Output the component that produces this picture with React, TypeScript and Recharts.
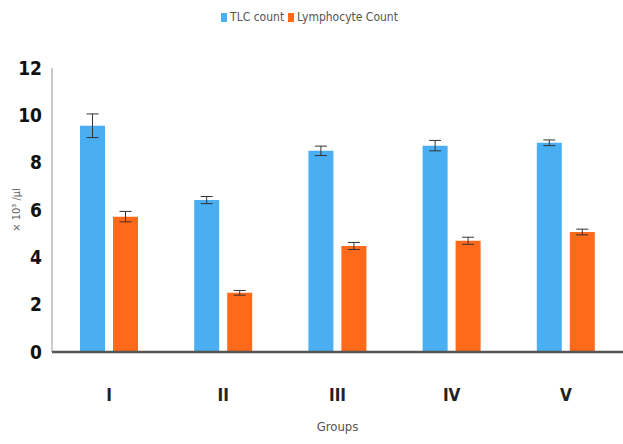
import { BarChart, Bar, XAxis, YAxis, Legend, ErrorBar } from "recharts";

const groups = ["I", "II", "III", "IV", "V"];
const tlcCount = [9.56, 6.42, 8.5, 8.72, 8.84];
const tlcError = [0.5, 0.15, 0.2, 0.22, 0.12];
const lymphocyteCount = [5.72, 2.5, 4.48, 4.7, 5.07];
const lymphocyteError = [0.22, 0.1, 0.15, 0.15, 0.12];
const yTicks = [0, 2, 4, 6, 8, 10, 12];

const BLUE = "#4AAEF2";
const ORANGE = "#FF6A1A";
const FONT = "'Liberation Sans Narrow', 'DejaVu Sans Condensed', sans-serif";

const data = groups.map((g, i) => ({
  group: g,
  tlc: tlcCount[i],
  tlcErr: tlcError[i],
  lym: lymphocyteCount[i],
  lymErr: lymphocyteError[i],
}));

function LegendContent() {
  const item = (color: string, label: string) => (
    <span style={{ display: "inline-flex", alignItems: "center", marginRight: 4 }}>
      <span style={{ width: 6, height: 9, background: color, marginRight: 3, display: "inline-block" }} />
      <span>{label}</span>
    </span>
  );
  return (
    <div style={{ textAlign: "center", fontFamily: FONT, fontSize: 12, color: "#555", height: 20 }}>
      {item(BLUE, "TLC count")}
      {item(ORANGE, "Lymphocyte Count")}
    </div>
  );
}

export default function App() {
  return (
    <div style={{ position: "absolute", left: 0, top: 0, background: "#fff" }}>
      <BarChart
        width={623}
        height={444}
        data={data}
        margin={{ top: 48, right: 0, bottom: 0, left: 0 }}
        barSize={25}
        barGap={8}
      >
        <Legend verticalAlign="top" align="center" content={<LegendContent />} wrapperStyle={{ top: 10 }} />
        <YAxis
          domain={[0, 12]}
          ticks={yTicks}
          width={52}
          tickLine={false}
          axisLine={{ stroke: "#b8b8b8", strokeWidth: 1.5 }}
          tick={{ fill: "#111", fontSize: 19, fontWeight: 700, fontFamily: FONT }}
          tickMargin={4}
          label={{
            value: "× 10³ /µl",
            angle: -90,
            position: "insideLeft",
            offset: 16,
            style: { fill: "#666", fontSize: 11, fontFamily: FONT, textAnchor: "middle" },
          }}
        />
        <XAxis
          dataKey="group"
          height={92}
          tickLine={false}
          axisLine={{ stroke: "#555", strokeWidth: 2.5 }}
          tick={{ fill: "#222", fontSize: 17, fontWeight: 700, fontFamily: FONT }}
          tickMargin={31}
          label={{
            value: "Groups",
            position: "insideBottom",
            offset: 13,
            style: { fill: "#555", fontSize: 13, fontFamily: FONT },
          }}
        />
        <Bar dataKey="tlc" fill={BLUE} isAnimationActive={false} name="TLC count">
          <ErrorBar dataKey="tlcErr" width={6} stroke="#333" strokeWidth={1} />
        </Bar>
        <Bar dataKey="lym" fill={ORANGE} isAnimationActive={false} name="Lymphocyte Count">
          <ErrorBar dataKey="lymErr" width={6} stroke="#333" strokeWidth={1} />
        </Bar>
      </BarChart>
    </div>
  );
}
